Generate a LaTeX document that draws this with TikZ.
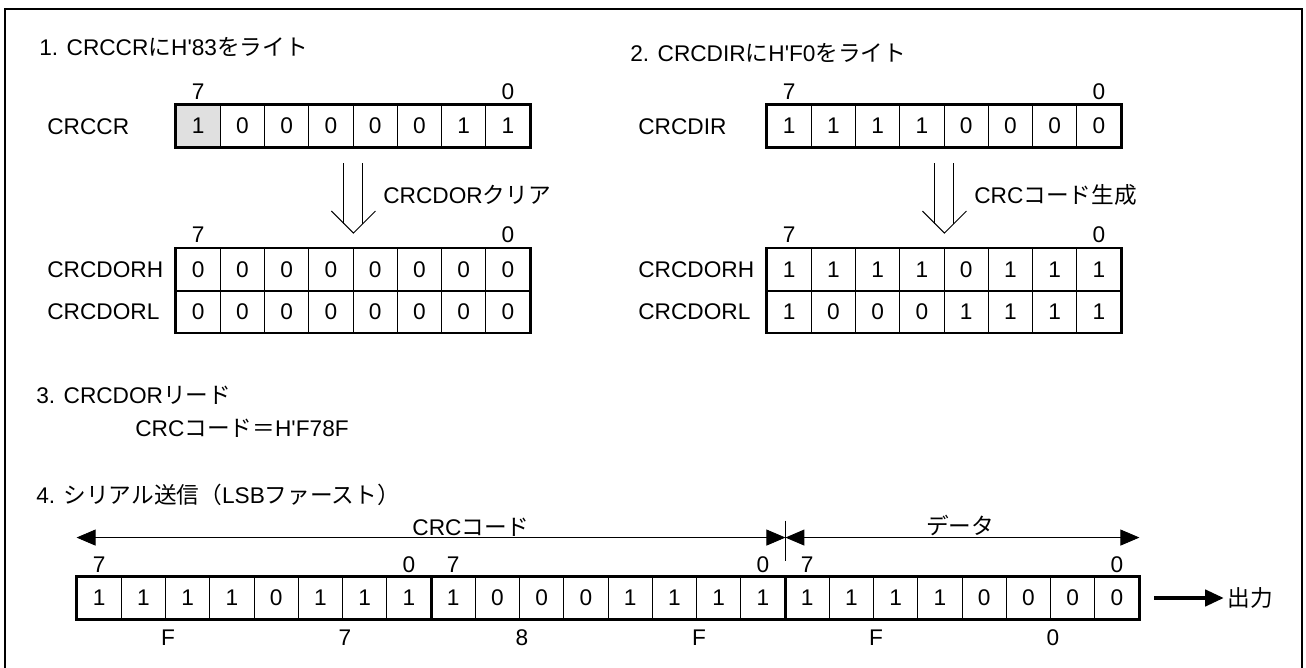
\documentclass[tikz,border=0pt]{standalone}
\usepackage{fontspec}
\setmainfont{Liberation Sans}
\newfontfamily\jpfont{Noto Sans CJK JP}
\usepackage{tikz}
\usetikzlibrary{arrows.meta, calc}

\newcommand{\ja}[1]{{\jpfont #1}}
\newcommand{\q}{\textquotesingle}
% one row of bit cells: name, left x, centre y, bits
\newcommand{\bitrow}[4]{%
  \foreach \b [count=\i] in {#4}
    \node[bitcell] (#1-\i) at ({#2+(\i-0.5)*44.25}, #3) {\b};
}
% hollow double arrow between two registers
\newcommand{\dblarrow}[2]{%
  \coordinate (#1-from) at ($(#1-4.south east)+(0,16)$);
  \coordinate (#2-to) at ($(#2-4.north east)+(0,-15)$);
  \draw[arrowline] ($(#1-from)+(-9.5,0)$) -- ($(#2-to)+(-9.5,-9.5)$);
  \draw[arrowline] ($(#1-from)+(9.5,0)$) -- ($(#2-to)+(9.5,-9.5)$);
  \draw[arrowline] ($(#2-to)+(-22,-22)$) -- (#2-to) -- ($(#2-to)+(22,-22)$);
}

\begin{document}
\begin{tikzpicture}[x=0.02cm, y=-0.02cm, inner sep=0pt,
    font=\fontsize{12.9pt}{15pt}\selectfont,
    bitcell/.style={draw, line width=0.5pt, minimum width=0.885cm,
      minimum height=0.84cm, inner sep=0pt},
    regframe/.style={line width=1.3pt},
    hilite/.style={fill=black!12},
    arrowline/.style={line width=0.6pt},
    dimline/.style={{Triangle[length=0.38cm,width=0.32cm]}-{Triangle[length=0.38cm,width=0.32cm]},
      line width=0.5pt},
    outarrow/.style={-{Triangle[length=0.38cm,width=0.32cm]}, line width=0.09cm}]
  \useasboundingbox (0,0) rectangle (1306,668);
  \draw[line width=1.1pt] (5,670) -- (5,9) -- (1302,9) -- (1302,670);

  % --- 1. write H'83 to CRCCR ---
  \begin{scope}
    \node[anchor=west] (t1) at (39,47) {1. CRCCR\ja{に}H\q 83\ja{をライト}};
    \node[anchor=west] (ccrname) at (47,127) {CRCCR};
    \fill[hilite] (176,105) rectangle ++(44.25,42);
    \bitrow{ccr}{176}{126}{1,0,0,0,0,0,1,1}
    \draw[regframe] (ccr-1.north west) rectangle (ccr-8.south east);
    \node (ccr7) at ($(ccr-1.north)+(0,-13)$) {7};
    \node (ccr0) at ($(ccr-8.north)+(0,-13)$) {0};
    % CRCDOR cleared
    \node[anchor=west] (dh1name) at (47,270) {CRCDORH};
    \node[anchor=west] (dl1name) at (47,312) {CRCDORL};
    \bitrow{dh1}{176}{269.5}{0,0,0,0,0,0,0,0}
    \bitrow{dl1}{176}{311.5}{0,0,0,0,0,0,0,0}
    \draw[regframe] (dh1-1.north west) rectangle (dl1-8.south east);
    \draw[regframe] (dh1-1.south west) -- (dh1-8.south east);
    \node (dh17) at ($(dh1-1.north)+(0,-13)$) {7};
    \node (dh10) at ($(dh1-8.north)+(0,-13)$) {0};
    \dblarrow{ccr}{dh1}
    \node[anchor=west] (clr) at (383,195) {CRCDOR\ja{クリア}};
  \end{scope}

  % --- 2. write H'F0 to CRCDIR ---
  \begin{scope}[shift={(591,0)}]
    \node[anchor=west] (t2) at (39,53) {2. CRCDIR\ja{に}H\q F0\ja{をライト}};
    \node[anchor=west] (dirname) at (47,127) {CRCDIR};
    \bitrow{dir}{176}{126}{1,1,1,1,0,0,0,0}
    \draw[regframe] (dir-1.north west) rectangle (dir-8.south east);
    \node (dir7) at ($(dir-1.north)+(0,-13)$) {7};
    \node (dir0) at ($(dir-8.north)+(0,-13)$) {0};
    % CRC code result
    \node[anchor=west] (dh2name) at (47,270) {CRCDORH};
    \node[anchor=west] (dl2name) at (47,312) {CRCDORL};
    \bitrow{dh2}{176}{269.5}{1,1,1,1,0,1,1,1}
    \bitrow{dl2}{176}{311.5}{1,0,0,0,1,1,1,1}
    \draw[regframe] (dh2-1.north west) rectangle (dl2-8.south east);
    \draw[regframe] (dh2-1.south west) -- (dh2-8.south east);
    \node (dh27) at ($(dh2-1.north)+(0,-13)$) {7};
    \node (dh20) at ($(dh2-8.north)+(0,-13)$) {0};
    \dblarrow{dir}{dh2}
    \node[anchor=west] (gen) at (383,195) {CRC\ja{コード生成}};
  \end{scope}

  % --- 3. read CRCDOR ---
  \node[anchor=west] (t3) at (36,395) {3. CRCDOR\ja{リード}};
  \node[anchor=west] (crcval) at (135,428) {CRC\ja{コード＝}H\q F78F};

  % --- 4. serial transmit, LSB first ---
  \node[anchor=west] (t4) at (36,495) {4. \ja{シリアル送信（}LSB\ja{ファースト）}};
  \bitrow{ser}{77}{598}{1,1,1,1,0,1,1,1,1,0,0,0,1,1,1,1,1,1,1,1,0,0,0,0}
  \draw[regframe] (ser-1.north west) rectangle (ser-24.south east);
  \foreach \k in {8,16}
    \draw[regframe] (ser-\k.north east) -- (ser-\k.south east);
  \foreach \k/\t in {1/7,8/0,9/7,16/0,17/7,24/0}
    \node (bit\k) at ($(ser-\k.north)+(0,-12)$) {\t};
  \foreach \k/\h in {2/F,6/7,10/8,14/F,18/F,22/0}
    \node (hex\k) at ($(ser-\k.south east)+(2,18)$) {\h};
  \coordinate (crcend) at ($(ser-1.north west)+(0,-39)$);
  \coordinate (split) at ($(ser-16.north east)+(0,-39)$);
  \coordinate (datend) at ($(ser-24.north east)+(0,-39)$);
  \draw[dimline] (crcend) -- (split);
  \draw[dimline] (split) -- (datend);
  \draw[line width=0.5pt] ($(split)+(0,-17)$) -- ($(split)+(0,23)$);
  \node (crclbl) at (471,527) {CRC\ja{コード}};
  \node (datlbl) at (960,525) {\ja{データ}};
  \node[anchor=west, inner sep=2pt] (out) at (1224,598) {\ja{出力}};
  \draw[outarrow] ($(ser-24.east)+(15,0)$) -- (out.west);
\end{tikzpicture}
\end{document}
